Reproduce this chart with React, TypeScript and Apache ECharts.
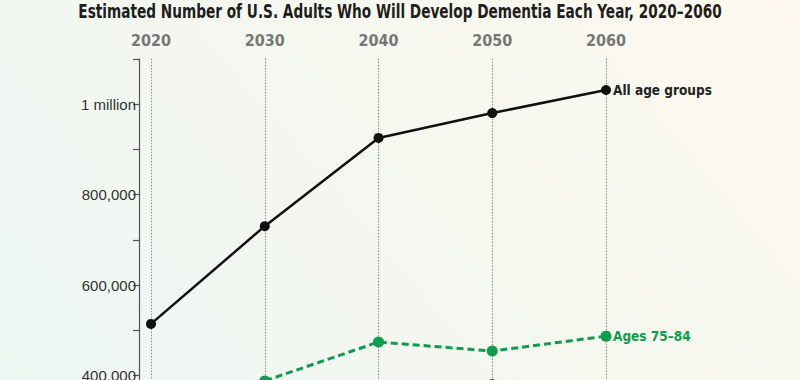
import React, { useEffect, useRef } from "react";
import * as echarts from "echarts";

const years = ["2020", "2030", "2040", "2050", "2060"];
const allAges = [514000, 730000, 925000, 980000, 1031000];
const ages75to84 = [300000, 388000, 474000, 454000, 487000];
const ages85plus = [180000, 250000, 330000, 380000, 360000];
const yTickValues = [0, 100000, 200000, 300000, 400000, 500000, 600000, 700000, 800000, 900000, 1000000, 1100000];
const yLabelValues = [0, 200000, 400000, 600000, 800000, 1000000];
const titleText = "Estimated Number of U.S. Adults Who Will Develop Dementia Each Year, 2020–2060";

const COND = "'Liberation Sans Narrow', 'DejaVu Sans Condensed', 'Liberation Sans', sans-serif";
const REG = "'Liberation Sans', 'Roboto', sans-serif";

export default function App() {
  const ref = useRef<HTMLDivElement>(null);
  useEffect(() => {
    const chart = echarts.init(ref.current!, null, { renderer: "svg" });
    chart.setOption({
      animation: false,
      backgroundColor: new echarts.graphic.LinearGradient(1, 0, 0, 0.63, [
        { offset: 0, color: "#fdf9ee" },
        { offset: 1, color: "#edf6f2" },
      ]),
      graphic: [
        {
          type: "text",
          x: 400,
          y: 11,
          scaleX: 0.8,
          style: {
            text: titleText,
            fontFamily: COND,
            fontWeight: "bold",
            fontSize: 19,
            fill: "#1e1e1e",
            align: "center",
            verticalAlign: "middle",
          },
        },
      ],
      grid: { left: 151, right: 194, top: 58.75, bottom: 43.5, containLabel: false },
      xAxis: {
        type: "category",
        data: years,
        position: "top",
        boundaryGap: false,
        axisLine: { show: false },
        axisTick: { show: false },
        axisLabel: { color: "#777", fontFamily: COND, fontWeight: "bold", fontSize: 16, margin: 10 },
        splitLine: { show: true, lineStyle: { color: "#8a8a8a", type: [1.5, 1.5], width: 1 } },
      },
      yAxis: {
        type: "value",
        min: 0,
        max: 1100000,
        interval: 100000,
        offset: 12,
        axisLine: { show: true, lineStyle: { color: "#555", width: 1.2 } },
        axisTick: { show: true, length: 6, lineStyle: { color: "#555", width: 1.2 }, customValues: yTickValues },
        splitLine: { show: false },
        axisLabel: {
          customValues: yLabelValues,
          color: "#333",
          fontFamily: REG,
          fontSize: 15,
          margin: 3,
          formatter: (v: number) => (v === 1000000 ? "1 million" : v.toLocaleString("en-US")),
        },
      },
      series: [
        {
          type: "line",
          data: ages85plus,
          symbol: "circle",
          symbolSize: 11,
          lineStyle: { color: "#0c6e3d", width: 3, type: [6, 4] },
          itemStyle: { color: "#0c6e3d" },
          z: 2,
        },
        {
          type: "line",
          data: ages75to84,
          symbol: "circle",
          symbolSize: 11,
          lineStyle: { color: "#0f9d4d", width: 3, type: [7, 4] },
          itemStyle: { color: "#0f9d4d" },
          endLabel: {
            show: true,
            formatter: "Ages 75–84",
            distance: 7,
            color: "#0f9d4d",
            fontFamily: COND,
            fontWeight: "bold",
            fontSize: 13.5,
          },
          z: 3,
        },
        {
          type: "line",
          data: allAges,
          symbol: "circle",
          symbolSize: 10,
          lineStyle: { color: "#111", width: 2.5 },
          itemStyle: { color: "#111" },
          endLabel: {
            show: true,
            formatter: "All age groups",
            distance: 7,
            color: "#222",
            fontFamily: COND,
            fontWeight: "bold",
            fontSize: 13.5,
          },
          z: 4,
        },
      ],
    });
    return () => chart.dispose();
  }, []);
  return (
    <div style={{ position: "absolute", left: 0, top: 0, width: 800, height: 380, overflow: "hidden" }}>
      <div ref={ref} style={{ width: 800, height: 600 }} />
    </div>
  );
}
